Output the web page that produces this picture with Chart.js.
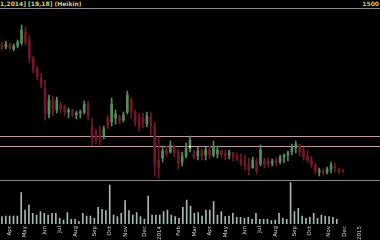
<!DOCTYPE html>
<html>
<head>
<meta charset="utf-8">
<script src="https://cdn.jsdelivr.net/npm/chart.js@4.4.1/dist/chart.umd.min.js"></script>
<style>
  html, body { margin: 0; padding: 0; background: #000; width: 380px; height: 240px; overflow: hidden; }
  #wrap { position: relative; width: 380px; height: 240px; }
  #title { position: absolute; left: 0; top: 0; font: bold 6px 'DejaVu Sans', sans-serif; color: #cfcf8a; white-space: nowrap; line-height: 7px; }
  #last { position: absolute; right: 1px; top: 0; font: bold 6px 'DejaVu Sans', sans-serif; color: #c8c860; line-height: 7px; }
  #topline { position: absolute; left: 0; top: 8px; width: 380px; height: 1px; background: #8c8c8c; }
  #sepline { position: absolute; left: 0; top: 180px; width: 380px; height: 1px; background: #858585; }
  #main { position: absolute; left: 0; top: 10px; }
  #vol { position: absolute; left: 0; top: 182px; }
</style>
</head>
<body>
<div id="wrap">
  <div id="title">1,2014] [19,18] (Heikin)</div>
  <div id="last">1500</div>
  <div id="topline"></div>
  <canvas id="main" width="380" height="170"></canvas>
  <div id="sepline"></div>
  <canvas id="vol" width="380" height="58"></canvas>
</div>
<script>
// weekly bars, 97 slots on the axis (last ones empty)
const slotCount = 97
const months = ['Apr','May','Jun','Jul','Aug','Sep','Oct','Nov','Dec','2014','Feb','Mar','Apr','May','Jun','Jul','Aug','Sep','Oct','Nov','Dec','2015']
const monthSlots = [2,6,11,15,19,24,28,32,37,41,46,50,54,58,63,67,71,76,80,85,89,93]

const open = [1330,1315,1325,1305,1320,1335,1390,1350,1260,1205,1160,1110,980,1050,1000,1030,1020,990,1000,975,985,990,1030,915,895,875,865,960,940,960,965,950,990,1055,990,965,960,930,965,920,750,760,800,790,815,790,740,770,805,780,770,795,775,800,775,780,795,780,775,785,770,755,745,730,710,745,730,750,745,735,750,740,765,775,790,810,825,795,770,755,725,690,695,690,705,720,705,700]
const high = [1340,1345,1335,1330,1350,1425,1415,1375,1270,1220,1185,1150,1075,1070,1065,1040,1025,1010,1005,995,1000,1045,1045,960,905,920,920,975,1060,1000,975,990,1095,1060,1000,985,985,990,990,940,865,820,820,845,825,805,790,835,870,800,815,805,815,820,845,820,800,800,800,790,785,780,775,760,765,760,825,760,760,755,760,775,780,795,830,845,830,815,800,770,735,710,705,715,740,735,710,705]
const low = [1300,1305,1300,1295,1310,1325,1325,1235,1185,1150,1110,950,960,970,985,985,970,960,965,955,960,980,950,820,830,825,855,905,920,930,930,940,980,960,920,895,910,915,875,670,660,740,765,785,765,705,720,760,790,755,750,750,750,755,765,760,760,750,755,745,745,720,700,675,710,680,720,710,715,720,720,730,735,745,775,785,770,750,735,710,680,670,675,680,685,690,680,685]
const close = [1310,1330,1310,1320,1340,1400,1340,1260,1200,1165,1125,985,1050,1000,1050,1000,990,1000,975,985,990,1030,965,860,850,860,905,920,1030,980,945,975,1075,990,940,915,935,970,920,725,710,795,780,825,785,735,770,810,850,765,795,770,800,775,820,800,775,770,790,765,755,735,720,700,750,695,800,725,730,745,735,765,775,785,815,830,790,765,750,725,695,700,685,705,725,710,695,695]
const volume = [220,240,240,240,240,940,420,570,320,270,370,320,270,320,320,170,120,340,140,140,70,320,240,240,170,500,440,400,1170,270,220,320,700,400,270,340,220,140,840,270,270,270,370,420,270,220,170,500,720,540,320,340,240,420,420,670,270,370,220,240,320,200,200,170,200,140,320,140,140,140,100,120,320,170,140,1240,370,470,240,170,200,320,170,270,240,220,200,140]

const levels = [870, 820]
const markerSlot = 48
const markerValue = 817

const upColor = '#5a8a5c'
const downColor = '#6c1a28'

const labels = new Array(slotCount).fill('')
monthSlots.forEach((s, i) => { labels[s] = months[i] })

const colors = open.map((o, i) => close[i] >= o ? upColor : downColor)
const marker = new Array(slotCount).fill(null)
marker[markerSlot] = markerValue

const levelLines = {
  id: 'levelLines',
  beforeDatasetsDraw(chart) {
    const { ctx, chartArea, scales: { y } } = chart
    ctx.save()
    ctx.strokeStyle = '#c09aa4'
    ctx.lineWidth = 1
    levels.forEach(v => {
      const py = Math.round(y.getPixelForValue(v)) + 0.5
      ctx.beginPath()
      ctx.moveTo(chartArea.left, py)
      ctx.lineTo(chartArea.right, py)
      ctx.stroke()
    })
    ctx.restore()
  }
}

new Chart(document.getElementById('main'), {
  type: 'bar',
  data: {
    labels: labels,
    datasets: [
      { data: low.map((l, i) => [l, high[i]]), backgroundColor: colors, barThickness: 1, grouped: false, order: 2 },
      { data: open.map((o, i) => [o, close[i]]), backgroundColor: colors, barThickness: 2, grouped: false, order: 1 },
      { type: 'line', data: marker, showLine: false, pointStyle: 'rect', pointRadius: 1.3,
        backgroundColor: '#ffffff', borderColor: '#ffffff', borderWidth: 0, order: 0 }
    ]
  },
  options: {
    responsive: false,
    animation: false,
    devicePixelRatio: 1,
    layout: { padding: 0, autoPadding: false },
    plugins: { legend: { display: false }, tooltip: { enabled: false } },
    scales: {
      x: { display: false, offset: true },
      y: { display: false, min: 650, max: 1500 }
    }
  },
  plugins: [levelLines]
})

new Chart(document.getElementById('vol'), {
  type: 'bar',
  data: {
    labels: labels,
    datasets: [{ data: volume, backgroundColor: '#a3b9b2', barThickness: 1 }]
  },
  options: {
    responsive: false,
    animation: false,
    devicePixelRatio: 1,
    layout: { padding: 0, autoPadding: false },
    plugins: { legend: { display: false }, tooltip: { enabled: false } },
    scales: {
      x: {
        offset: true,
        grid: { display: false, drawTicks: false },
        border: { display: false },
        ticks: { color: '#d0d0d0', font: { size: 5.5, family: 'DejaVu Sans' }, autoSkip: false,
                 minRotation: 90, maxRotation: 90, padding: 2 },
        afterFit(scale) { scale.height = 16 }
      },
      y: { display: false, min: 0, max: 1260 }
    }
  }
})
</script>
</body>
</html>
